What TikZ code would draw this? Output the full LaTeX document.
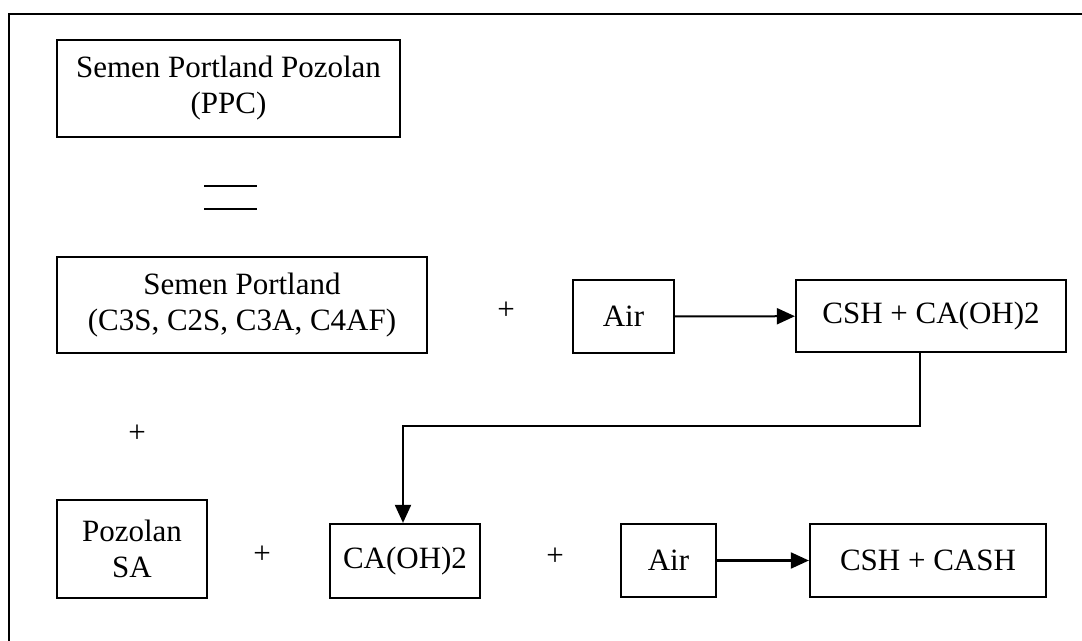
\documentclass[tikz,border=0pt]{standalone}
\usepackage{fontspec}
\setmainfont{Liberation Serif}
\usetikzlibrary{arrows.meta}
\begin{document}
\begin{tikzpicture}[x=0.5pt,y=-0.5pt,
  box/.style={draw,line width=1.1pt,inner sep=0pt,align=center,
    font=\fontsize{15.5}{18}\selectfont},
  plus/.style={inner sep=0pt,font=\fontsize{15.5}{18}\selectfont},
  conn/.style={line width=1pt,-{Triangle[length=9pt,width=8pt]}}]
\useasboundingbox (0,0) rectangle (1082,641);
% frame
\draw[line width=1.4pt] (1082,14) -- (9,14) -- (9,641);
% nodes
\node[box,minimum width=171.5pt,minimum height=48.5pt] (ppc) at (228.5,88.5) {Semen Portland Pozolan\\(PPC)};
\node[box,minimum width=185pt,minimum height=48pt] (sp) at (242,305) {Semen Portland\\(C3S, C2S, C3A, C4AF)};
\node[plus] (p1) at (506,311) {+};
\node[box,minimum width=50.5pt,minimum height=36.5pt] (air1) at (623.5,316.5) {Air};
\node[box,minimum width=135pt,minimum height=36pt] (csh1) at (931,316) {CSH + CA(OH)2};
\node[plus] (p2) at (137,434) {+};
\node[box,minimum width=75pt,minimum height=49pt] (poz) at (132,549) {Pozolan\\SA};
\node[plus] (p3) at (262,555) {+};
\node[box,minimum width=75pt,minimum height=37pt] (ca) at (405,561) {CA(OH)2};
\node[plus] (p4) at (555,557) {+};
\node[box,minimum width=47.5pt,minimum height=36.5pt] (air2) at (668.5,560.5) {Air};
\node[box,minimum width=118pt,minimum height=36.5pt] (csh2) at (928,560.5) {CSH + CASH};
% equals sign
\draw[line width=1pt] (204,186) -- (257,186);
\draw[line width=1pt] (204,209) -- (257,209);
% connectors
\coordinate (k1) at (920,426);
\coordinate (k2) at (403,426);
\draw[conn] (air1) -- (csh1);
\draw[conn] (csh1.south -| k1) -- (k1) -- (k2) -- (ca.north -| k2);
\draw[conn] (air2) -- (csh2);
\end{tikzpicture}
\end{document}
